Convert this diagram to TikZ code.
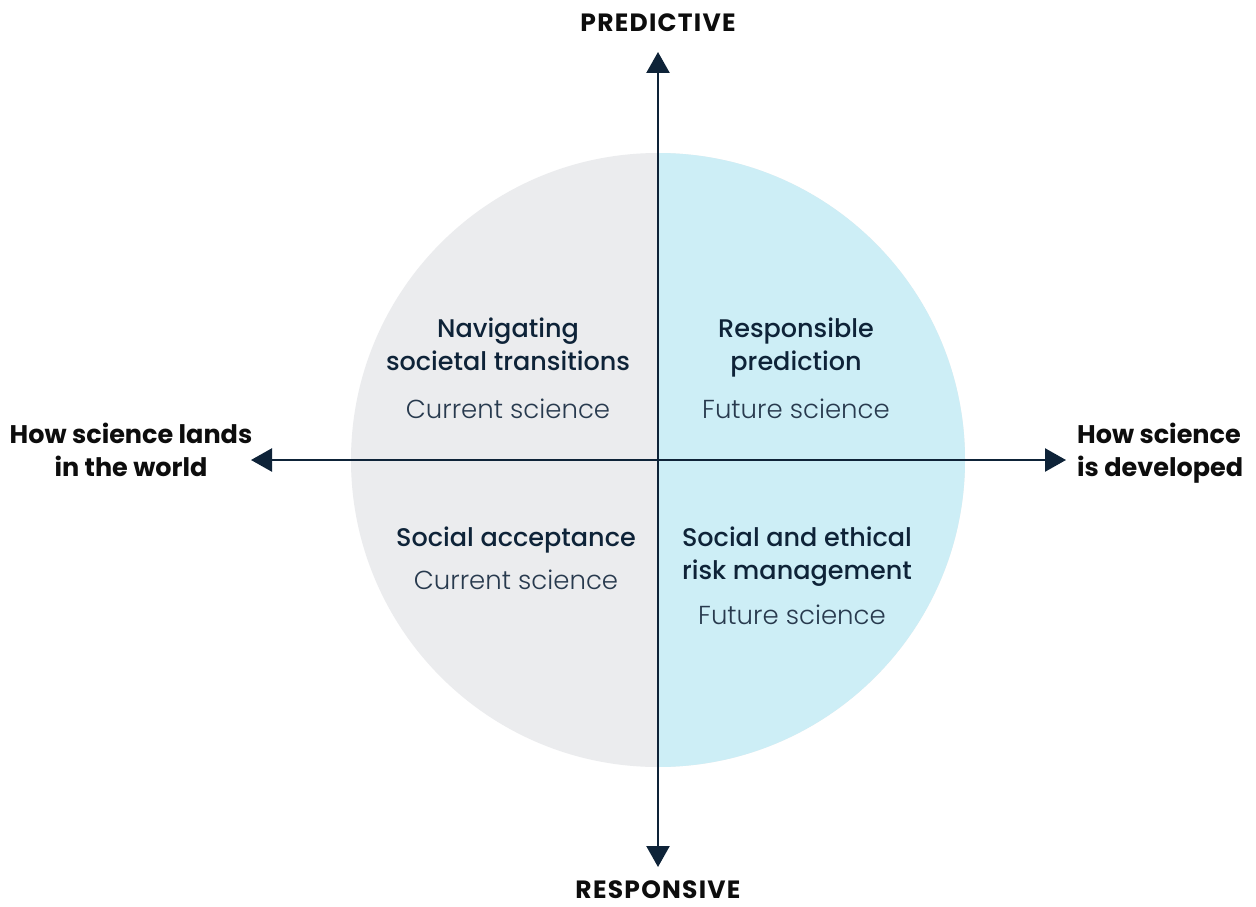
\documentclass[tikz,border=0pt]{standalone}
\usepackage{fontspec}
\usepackage{tikz}
\usetikzlibrary{arrows.meta, positioning}
\setmainfont{Poppins}
\newfontfamily\axisfont{Poppins Bold}
\newfontfamily\capsfont{Poppins Bold}[LetterSpace=5]
\newfontfamily\headfont{Poppins Medium}
\newfontfamily\lightfont{Poppins Light}
\definecolor{mynavy}{RGB}{14,35,56}
\definecolor{mysub}{RGB}{40,58,78}
\definecolor{mygray}{RGB}{235,236,238}
\definecolor{myblue}{RGB}{205,238,246}
\tikzset{
  axis/.style={line width=2.4pt, color=mynavy,
    {Triangle[width=23pt, length=21pt]}-{Triangle[width=23pt, length=21pt]}},
  axislabel/.style={font=\axisfont\fontsize{25.5}{33}\selectfont, color=black!95,
    inner sep=0pt},
  capslabel/.style={font=\capsfont\fontsize{25}{33}\selectfont, color=black!95,
    inner sep=0pt, anchor=base},
  quadtitle/.style={font=\headfont\fontsize{25.5}{33}\selectfont, color=mynavy,
    align=center, inner sep=0pt},
  quadsub/.style={font=\lightfont\fontsize{26}{33}\selectfont, color=mysub,
    inner sep=0pt}
}
\begin{document}
\begin{tikzpicture}[x=1pt, y=-1pt]
  \useasboundingbox[fill=white] (0,0) rectangle (1256,907);
  \coordinate (c) at (658,460);

  % Disc: grey left half, blue right half
  \fill[mygray] (c) circle[radius=307];
  \begin{scope}
    \clip (658,0) rectangle (1256,907);
    \fill[myblue] (c) circle[radius=307];
  \end{scope}

  % Axis end points
  \coordinate (up) at (658,52);
  \coordinate (down) at (658,867);
  \coordinate (left) at (251,460);
  \coordinate (right) at (1066,460);
  \draw[axis] (down) -- (up);
  \draw[axis] (left) -- (right);

  % Axis labels
  \node[capslabel] (predictive) at (658,32) {PREDICTIVE};
  \node[capslabel] (responsive) at (658,898) {RESPONSIVE};
  \node[axislabel, align=center] (lands) at (131,450) {How science lands\\in the world};
  \node[axislabel, align=left, anchor=west] (developed) at (1077,453) {How science\\is developed};

  % Quadrants
  \node[quadtitle] (navigating) at (508,344) {Navigating\\societal transitions};
  \node[quadsub] (navsub) at (508,409) {Current science};
  \node[quadtitle] (prediction) at (796,348) {Responsible\\prediction};
  \node[quadsub] (predsub) at (796,409) {Future science};
  \node[quadtitle] (acceptance) at (516,540) {Social acceptance};
  \node[quadsub] (accsub) at (516,580) {Current science};
  \node[quadtitle] (risk) at (797,557) {Social and ethical\\risk management};
  \node[quadsub] (risksub) at (792,615) {Future science};
\end{tikzpicture}
\end{document}
